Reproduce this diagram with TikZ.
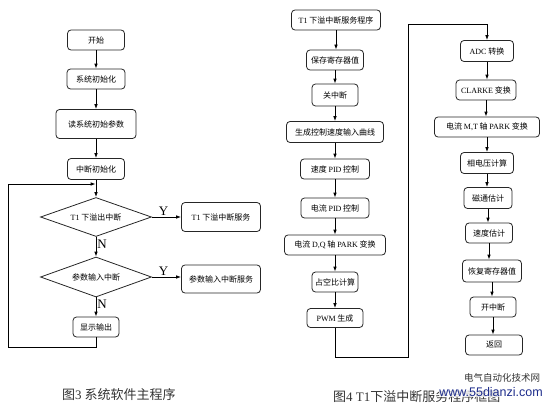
\documentclass[tikz,border=0pt]{standalone}
\usepackage{fontspec}
\setmainfont{Noto Sans CJK SC}
\newfontfamily\lat{Liberation Serif}
\newfontfamily\wmsans{Liberation Sans}
\usetikzlibrary{shapes.geometric,arrows.meta}
\definecolor{wmblue}{RGB}{30,45,140}
\tikzset{
  box/.style={draw=black!85, rounded corners=3.5pt, line width=0.8pt, inner sep=1pt,
    font=\fontsize{8}{9}\selectfont, align=center},
  dia/.style={draw=black!85, diamond, aspect=2.8, inner sep=0pt, line width=0.8pt,
    font=\fontsize{8}{9}\selectfont},
  arr/.style={-{Latex[length=5pt,width=3.6pt]}, line width=0.8pt},
  lab/.style={font=\lat\fontsize{13}{13}\selectfont, inner sep=1pt},
  captext/.style={font=\fontsize{13}{13}\selectfont, text=black!80, anchor=west, inner sep=0pt}
}
\begin{document}
\begin{tikzpicture}[x=1pt,y=-1pt]
\useasboundingbox (0,0) rectangle (553,404);
% ---- left: main program ----
\node[box, minimum width=57pt, minimum height=20pt] (start) at (96,40) {开始};
\node[box, minimum width=58pt, minimum height=20pt] (sysinit) at (96,79) {系统初始化};
\node[box, minimum width=80pt, minimum height=29pt] (readp) at (96,124) {读系统初始参数};
\node[box, minimum width=57pt, minimum height=21pt] (intinit) at (96,169) {中断初始化};
\node[dia, minimum width=111pt, minimum height=39pt] (d1) at (96,217) {{\lat T1} 下溢出中断};
\node[box, minimum width=79pt, minimum height=29pt] (t1svc) at (221,217) {{\lat T1} 下溢中断服务};
\node[dia, minimum width=111pt, minimum height=40pt] (d2) at (96,277) {参数输入中断};
\node[box, minimum width=79pt, minimum height=28pt] (pisvc) at (221,279) {参数输入中断服务};
\node[box, minimum width=46pt, minimum height=20pt] (disp) at (96,327) {显示输出};
\coordinate (lpa) at (8,347);
\coordinate (lpb) at (8,184);
\coordinate (lpc) at (96,184);

\draw[arr] (start) -- (sysinit);
\draw[arr] (sysinit) -- (readp);
\draw[arr] (readp) -- (intinit);
\draw[arr] (intinit) -- (d1);
\draw[arr] (d1) -- node[lab, right, pos=0.35] {N} (d2);
\draw[arr] (d2) -- node[lab, right, pos=0.35] {N} (disp);
\draw[arr] (d1.east) -- node[lab, above, pos=0.4] {Y} (t1svc.west);
\draw[arr] (d2.east) -- node[lab, above, pos=0.4] {Y} (d2.east -| pisvc.west);
\draw[arr, shorten >=0.4pt] (disp.south) -- (disp.south |- lpa) -- (lpa) -- (lpb) -- (lpc);

% ---- right: T1 underflow ISR ----
\node[box, minimum width=89pt, minimum height=20pt] (r1) at (336,20) {{\lat T1} 下溢中断服务程序};
\node[box, minimum width=57pt, minimum height=20pt] (r2) at (335,60) {保存寄存器值};
\node[box, minimum width=46pt, minimum height=22pt] (r3) at (335,95) {关中断};
\node[box, minimum width=97pt, minimum height=21pt] (r4) at (335,132) {生成控制速度输入曲线};
\node[box, minimum width=69pt, minimum height=20pt] (r5) at (335,169) {速度 {\lat PID} 控制};
\node[box, minimum width=68pt, minimum height=20pt] (r6) at (335,208) {电流 {\lat PID} 控制};
\node[box, minimum width=101pt, minimum height=20pt] (r7) at (335,245) {电流 {\lat D,Q} 轴 {\lat PARK} 变换};
\node[box, minimum width=46pt, minimum height=20pt] (r8) at (335,282) {占空比计算};
\node[box, minimum width=56pt, minimum height=19pt] (r9) at (335,318) {{\lat PWM} 生成};

\node[box, minimum width=53pt, minimum height=21pt] (s1) at (487,51) {{\lat ADC} 转换};
\node[box, minimum width=60pt, minimum height=20pt] (s2) at (486,90) {{\lat CLARKE} 变换};
\node[box, minimum width=105pt, minimum height=20pt] (s3) at (487,127) {电流 {\lat M,T} 轴 {\lat PARK} 变换};
\node[box, minimum width=53pt, minimum height=21pt] (s4) at (487,163) {相电压计算};
\node[box, minimum width=48pt, minimum height=21pt] (s5) at (488,198) {磁通估计};
\node[box, minimum width=47pt, minimum height=20pt] (s6) at (489,233) {速度估计};
\node[box, minimum width=59pt, minimum height=22pt] (s7) at (492,271) {恢复寄存器值};
\node[box, minimum width=46pt, minimum height=20pt] (s8) at (493,307) {开中断};
\node[box, minimum width=57pt, minimum height=20pt] (s9) at (494,345) {返回};

\foreach \a/\b in {r1/r2,r2/r3,r3/r4,r4/r5,r5/r6,r6/r7,r7/r8,r8/r9,
                   s1/s2,s2/s3,s3/s4,s4/s5,s5/s6,s6/s7,s7/s8,s8/s9}
  \draw[arr] (\a.south) -- (\a.south |- \b.north);

\coordinate (w1) at (335,357);
\coordinate (w2) at (408,357);
\coordinate (w3) at (408,24);
\draw[arr] (r9.south) -- (r9.south |- w1) -- (w2) -- (w3) -- (w3 -| s1.north) -- (s1.north);

% ---- captions and watermark ----
\node[captext] (cap3) at (62,395) {图{\lat 3} 系统软件主程序};
\node[captext] (cap4) at (333,397) {图{\lat 4 T1}下溢中断服务程序框图};
\node[font=\fontsize{9.5}{10}\selectfont, text=black!80, inner sep=0pt] (wm1) at (502,378) {电气自动化技术网};
\node[font=\wmsans\fontsize{12.5}{13}\selectfont, text=wmblue, fill=white, fill opacity=0.75, text opacity=1, inner sep=0.5pt] (wm2) at (491,392) {www.55dianzi.com};
\end{tikzpicture}
\end{document}
